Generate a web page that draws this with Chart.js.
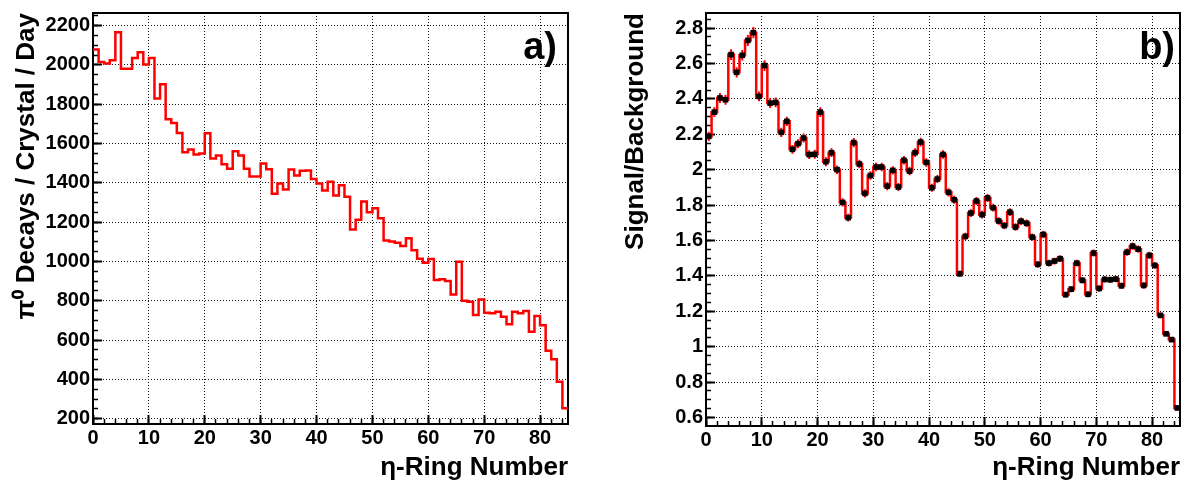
<!DOCTYPE html>
<html>
<head>
<meta charset="utf-8">
<script src="https://cdn.jsdelivr.net/npm/chart.js@4.4.0/dist/chart.umd.min.js"></script>
<style>
  html, body { margin: 0; padding: 0; background: #fff; }
  #wrap { position: relative; width: 1185px; height: 487px; overflow: hidden; }
  canvas { position: absolute; top: 0; }
  #chart-a { left: 0; }
  #chart-b { left: 593px; }
</style>
</head>
<body>
<div id="wrap">
  <canvas id="chart-a" width="592" height="487"></canvas>
  <canvas id="chart-b" width="592" height="487"></canvas>
</div>
<script>
// eta-ring bins 0..84
const RINGS = 85;

// panel a) pi0 decays per crystal per day, one value per eta ring
const decaysPerDay = [
  2078, 2015, 2007, 2024, 2166, 1981, 1981, 2035, 2064, 2002,
  2035, 1829, 1902, 1724, 1705, 1654, 1556, 1570, 1544, 1549,
  1652, 1524, 1539, 1495, 1471, 1561, 1539, 1471, 1432, 1432,
  1498, 1469, 1344, 1397, 1366, 1468, 1437, 1461, 1463, 1419,
  1397, 1361, 1405, 1336, 1388, 1329, 1163, 1212, 1305, 1250,
  1271, 1220, 1107, 1102, 1095, 1078, 1118, 1057, 1014, 993,
  1012, 905, 909, 900, 832, 998, 800, 795, 727, 807,
  739, 736, 744, 719, 681, 744, 736, 748, 642, 722,
  676, 546, 502, 388, 253
];

// panel b) signal / background per eta ring, with errors
const signalToBackground = [
  2.188, 2.325, 2.405, 2.395, 2.650, 2.550, 2.646, 2.730, 2.774, 2.414,
  2.588, 2.376, 2.380, 2.211, 2.273, 2.115, 2.147, 2.179, 2.085, 2.087,
  2.325, 2.045, 2.096, 2.000, 1.815, 1.729, 2.153, 2.032, 1.866, 1.967,
  2.015, 2.015, 1.907, 1.996, 1.902, 2.053, 1.992, 2.096, 2.156, 2.041,
  1.898, 1.947, 2.086, 1.872, 1.830, 1.412, 1.623, 1.755, 1.823, 1.746,
  1.840, 1.785, 1.710, 1.684, 1.760, 1.676, 1.709, 1.697, 1.619, 1.465,
  1.634, 1.472, 1.484, 1.497, 1.294, 1.325, 1.472, 1.375, 1.296, 1.529,
  1.329, 1.380, 1.378, 1.382, 1.344, 1.534, 1.568, 1.551, 1.346, 1.516,
  1.459, 1.177, 1.073, 1.040, 0.654
];
const sbErrors = [
  0.026, 0.027, 0.028, 0.028, 0.030, 0.029, 0.030, 0.031, 0.032, 0.028,
  0.030, 0.027, 0.027, 0.026, 0.026, 0.025, 0.025, 0.026, 0.025, 0.025,
  0.027, 0.025, 0.025, 0.024, 0.023, 0.022, 0.026, 0.024, 0.023, 0.024,
  0.024, 0.024, 0.023, 0.024, 0.023, 0.024, 0.024, 0.025, 0.025, 0.024,
  0.023, 0.023, 0.024, 0.023, 0.022, 0.019, 0.021, 0.022, 0.022, 0.022,
  0.022, 0.022, 0.021, 0.021, 0.022, 0.021, 0.021, 0.021, 0.021, 0.019,
  0.021, 0.019, 0.019, 0.019, 0.017, 0.018, 0.019, 0.018, 0.017, 0.020,
  0.018, 0.018, 0.018, 0.018, 0.018, 0.020, 0.020, 0.020, 0.018, 0.020,
  0.019, 0.016, 0.015, 0.015, 0.010
];

// axis ticks
const xMajorTicks = [0, 10, 20, 30, 40, 50, 60, 70, 80];
const yMajorTicksA = [200, 400, 600, 800, 1000, 1200, 1400, 1600, 1800, 2000, 2200];
const yMajorTicksB = [0.6, 0.8, 1.0, 1.2, 1.4, 1.6, 1.8, 2.0, 2.2, 2.4, 2.6, 2.8];

const X_TITLE = 'η-Ring Number';
const Y_TITLE_A = 'π⁰ Decays / Crystal / Day';
const Y_TITLE_B = 'Signal/Background';

const TICK_FONT = { family: '"Liberation Sans", Arial, sans-serif', size: 20, weight: 'bold' };
const TITLE_FONT = { family: '"Liberation Sans", Arial, sans-serif', size: 26, weight: 'bold' };
const RED = '#ff0000';

function minorTicks(from, to, step) {
  const out = [];
  for (let k = Math.round(from / step); k * step <= to + 1e-9; k++) out.push(+(k * step).toFixed(4));
  return out;
}

const setTicks = vals => s => { s.ticks = vals.map(v => ({ value: v })); };

// fixed axis size, and no extra room for the end labels
function fixSize(prop, size) {
  return s => {
    s[prop] = size;
    s.paddingTop = 0; s.paddingBottom = 0; s.paddingLeft = 0; s.paddingRight = 0;
  };
}

// ROOT style frame: inward ticks, dotted grid, frame on all four sides
function panelScales(o) {
  const frame = { display: true, color: '#000', width: 2 };
  const hidden = { display: false };
  return {
    x: {
      type: 'linear', axis: 'x', position: 'bottom', weight: 1, min: 0, max: RINGS,
      afterBuildTicks: setTicks(xMajorTicks),
      afterFit: fixSize('height', o.xHeight),
      grid: { color: '#111', lineWidth: 1, tickLength: -9, tickColor: '#000', tickWidth: 2 },
      border: Object.assign({ dash: [1, 2] }, frame),
      ticks: { color: '#000', font: TICK_FONT, padding: 11, autoSkip: false, maxRotation: 0 },
      title: { display: true, text: X_TITLE, align: 'end', color: '#000', font: TITLE_FONT, padding: { top: 0, bottom: 4 } }
    },
    xm: {
      type: 'linear', axis: 'x', position: 'bottom', weight: 0, min: 0, max: RINGS,
      afterBuildTicks: setTicks(minorTicks(0, 84, 2)),
      afterFit: fixSize('height', 0),
      grid: { drawOnChartArea: false, tickLength: -5, tickColor: '#000', tickWidth: 1.5 },
      border: hidden,
      ticks: { display: false }
    },
    xt: {
      type: 'linear', axis: 'x', position: 'top', weight: 0, min: 0, max: RINGS,
      afterBuildTicks: setTicks([]),
      afterFit: fixSize('height', 0),
      grid: { drawOnChartArea: false, drawTicks: false },
      border: frame,
      ticks: { display: false }
    },
    y: {
      type: 'linear', axis: 'y', position: 'left', weight: 1, min: o.yMin, max: o.yMax,
      afterBuildTicks: setTicks(o.yMajor),
      afterFit: fixSize('width', o.yWidth),
      grid: { color: '#111', lineWidth: 1, tickLength: -9, tickColor: '#000', tickWidth: 2 },
      border: Object.assign({ dash: [1, 2] }, frame),
      ticks: { color: '#000', font: TICK_FONT, padding: 12, autoSkip: false, callback: o.fmt },
      title: { display: true, text: o.yTitle, align: 'end', color: '#000', font: TITLE_FONT, padding: { top: o.titlePad, bottom: 0 } }
    },
    ym: {
      type: 'linear', axis: 'y', position: 'left', weight: 0, min: o.yMin, max: o.yMax,
      afterBuildTicks: setTicks(o.yMinor),
      afterFit: fixSize('width', 0),
      grid: { drawOnChartArea: false, tickLength: -5, tickColor: '#000', tickWidth: 1.5 },
      border: hidden,
      ticks: { display: false }
    },
    yr: {
      type: 'linear', axis: 'y', position: 'right', weight: 0, min: o.yMin, max: o.yMax,
      afterBuildTicks: setTicks([]),
      afterFit: fixSize('width', 0),
      grid: { drawOnChartArea: false, drawTicks: false },
      border: frame,
      ticks: { display: false }
    }
  };
}

const panelLabel = {
  id: 'panelLabel',
  afterDraw(chart, args, opts) {
    const c = chart.ctx;
    c.save();
    c.font = 'bold 38px "Liberation Sans", Arial, sans-serif';
    c.fillStyle = '#000';
    c.textAlign = 'right';
    c.textBaseline = 'alphabetic';
    c.fillText(opts.text, chart.chartArea.right - opts.dx, opts.y);
    c.restore();
  }
};

// histogram outline from bin contents (points on the bin edges)
function stepPoints(vals) {
  const pts = vals.map((v, i) => ({ x: i, y: v }));
  pts.push({ x: vals.length, y: vals[vals.length - 1] });
  return pts;
}

function errorSegments(vals, errs) {
  const pts = [];
  vals.forEach((v, i) => {
    pts.push({ x: i + 0.5, y: v - errs[i] }, { x: i + 0.5, y: v + errs[i] }, { x: i + 0.5, y: null });
  });
  return pts;
}

const baseOptions = {
  responsive: false,
  animation: false,
  events: [],
  plugins: { legend: { display: false }, tooltip: { enabled: false } }
};

new Chart(document.getElementById('chart-a'), {
  type: 'line',
  data: {
    datasets: [{
      data: stepPoints(decaysPerDay),
      stepped: 'before',
      borderColor: RED,
      borderWidth: 2.5,
      pointRadius: 0,
      fill: false,
      xAxisID: 'x', yAxisID: 'y'
    }]
  },
  options: Object.assign({}, baseOptions, {
    layout: { padding: { left: 0, top: 13, right: 24, bottom: 0 } },
    scales: panelScales({
      xHeight: 63, yWidth: 93, titlePad: 11,
      yMin: 173, yMax: 2264,
      yMajor: yMajorTicksA, yMinor: minorTicks(200, 2250, 50),
      yTitle: Y_TITLE_A,
      fmt: v => String(v)
    }),
    plugins: Object.assign({}, baseOptions.plugins, { panelLabel: { text: 'a)', dx: 11, y: 59 } })
  }),
  plugins: [panelLabel]
});

new Chart(document.getElementById('chart-b'), {
  type: 'line',
  data: {
    datasets: [
      {
        type: 'scatter',
        data: signalToBackground.map((v, i) => ({ x: i + 0.5, y: v })),
        showLine: false,
        pointStyle: 'rect',
        pointRadius: 4,
        backgroundColor: '#000',
        borderColor: '#000',
        borderWidth: 0,
        order: 0,
        xAxisID: 'x', yAxisID: 'y'
      },
      {
        data: errorSegments(signalToBackground, sbErrors),
        borderColor: RED,
        borderWidth: 2,
        pointRadius: 0,
        spanGaps: false,
        fill: false,
        order: 1,
        xAxisID: 'x', yAxisID: 'y'
      },
      {
        data: stepPoints(signalToBackground),
        stepped: 'before',
        borderColor: RED,
        borderWidth: 2.5,
        pointRadius: 0,
        fill: false,
        order: 2,
        xAxisID: 'x', yAxisID: 'y'
      }
    ]
  },
  options: Object.assign({}, baseOptions, {
    layout: { padding: { left: 0, top: 13, right: 5, bottom: 0 } },
    scales: panelScales({
      xHeight: 61, yWidth: 113, titlePad: 27,
      yMin: 0.552, yMax: 2.885,
      yMajor: yMajorTicksB, yMinor: minorTicks(0.6, 2.85, 0.05),
      yTitle: Y_TITLE_B,
      fmt: v => String(+v.toFixed(1))
    }),
    plugins: Object.assign({}, baseOptions.plugins, { panelLabel: { text: 'b)', dx: 5, y: 59 } })
  }),
  plugins: [panelLabel]
});
</script>
</body>
</html>
